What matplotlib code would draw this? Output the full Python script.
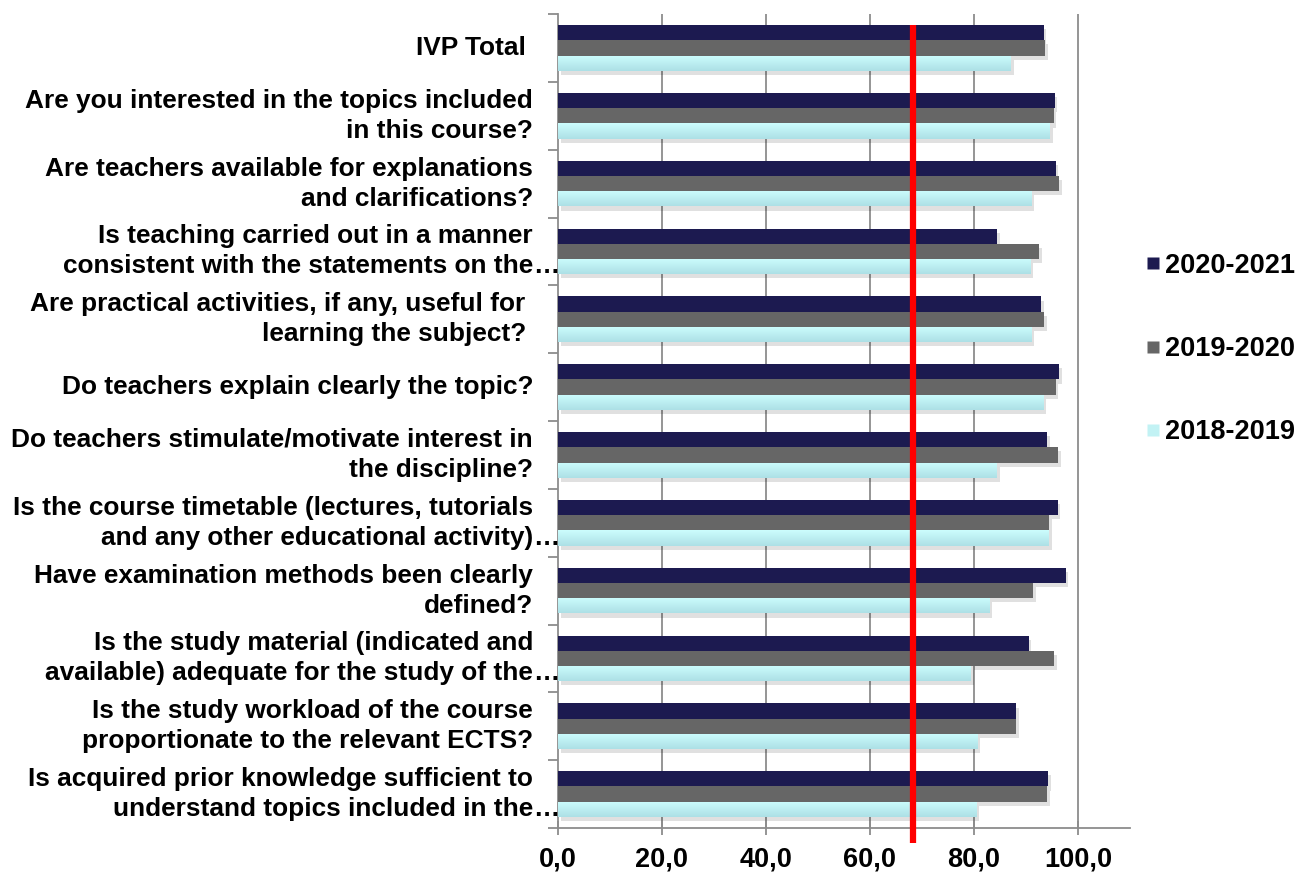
import matplotlib
matplotlib.use("Agg")
import matplotlib.pyplot as plt
import matplotlib.patheffects as pe
from matplotlib.lines import Line2D
import numpy as np

# ---------------- data ----------------
categories = [
    ["IVP Total "],
    ["Are you interested in the topics included", "in this course?"],
    ["Are teachers available for explanations", "and clarifications?"],
    ["Is teaching carried out in a manner", "consistent with the statements on the"],
    ["Are practical activities, if any, useful for ", "learning the subject? "],
    ["Do teachers explain clearly the topic?"],
    ["Do teachers stimulate/motivate interest in", "the discipline?"],
    ["Is the course timetable (lectures, tutorials", "and any other educational activity)"],
    ["Have examination methods been clearly", "defined?"],
    ["Is the study material (indicated and", "available) adequate for the study of the"],
    ["Is the study workload of the course", "proportionate to the relevant ECTS?"],
    ["Is acquired prior knowledge sufficient to", "understand topics included in the"],
]
truncated = [False, False, False, True, False, False, False, True, False, True, False, True]

series_names = ["2020-2021", "2019-2020", "2018-2019"]
v2020_2021 = [93.4, 95.5, 95.7, 84.5, 92.9, 96.3, 94.0, 96.1, 97.6, 90.5, 88.1, 94.2]
v2019_2020 = [93.7, 95.3, 96.4, 92.5, 93.5, 95.7, 96.2, 94.4, 91.4, 95.4, 88.1, 94.0]
v2018_2019 = [87.1, 94.6, 91.1, 90.9, 91.0, 93.4, 84.4, 94.4, 82.9, 79.4, 80.7, 80.4]
threshold = 68.3

xticks = [0, 20, 40, 60, 80, 100]
xtick_labels = ["0,0", "20,0", "40,0", "60,0", "80,0", "100,0"]

colors = ["#1c1a50", "#666666", "#c2f2f4"]
cyan_top, cyan_bottom = "#ccfdfd", "#ade0e6"

# ---------------- figure ----------------
W, H = 1302, 883
fig = plt.figure(figsize=(W / 100, H / 100), dpi=100)
ax = fig.add_axes([558 / W, 1 - 828 / H, (1130 - 558) / W, (828 - 14) / H])

FONT = "Liberation Sans"
n = len(categories)
y = np.arange(n)
bh = 0.225
shadow = [pe.SimplePatchShadow(offset=(2, -3), shadow_rgbFace="#000000", alpha=0.12), pe.Normal()]

grad_cmap = matplotlib.colors.LinearSegmentedColormap.from_list("cy", [cyan_top, cyan_bottom])
grad = np.linspace(0, 1, 32).reshape(-1, 1)

for k, (vals, col, name) in enumerate(zip([v2020_2021, v2019_2020, v2018_2019], colors, series_names)):
    bars = ax.barh(y + (k - 1) * bh, vals, height=bh, color=col, zorder=3, label=name,
                   edgecolor="none")
    for b in bars:
        b.set_path_effects(shadow)
        if k == 2:
            x0, y0 = b.get_x(), b.get_y()
            im = ax.imshow(grad, cmap=grad_cmap, aspect="auto", zorder=3.5,
                           extent=(x0, x0 + b.get_width(), y0 + b.get_height(), y0),
                           interpolation="bilinear")
            im.set_clip_path(b)

ax.set_xlim(0, 110)
ax.set_ylim(n - 0.5, -0.5)
ax.set_aspect("auto")

# grid
for xv in xticks[1:]:
    ax.axvline(xv, color="#8c8c8c", lw=1.3, zorder=1)

# spines
for s in ["top", "right"]:
    ax.spines[s].set_visible(False)
for s in ["left", "bottom"]:
    ax.spines[s].set_color("#8c8c8c")
    ax.spines[s].set_linewidth(1.3)

ax.set_xticks(xticks)
ax.set_xticklabels(xtick_labels, fontfamily=FONT, fontweight="bold", fontsize=19.5)
ax.tick_params(axis="x", direction="inout", length=10, width=1.3, color="#8c8c8c", pad=8)
ax.set_yticks(np.arange(n + 1) - 0.5)
ax.set_yticklabels([])
ax.tick_params(axis="y", direction="out", length=7, width=1.3, color="#8c8c8c")

# threshold line
ax.plot([threshold, threshold], [-0.5 + (0.5 - 1.5 * bh), n - 0.5 + 0.22], color="#ff0000",
        lw=4.5, zorder=5, clip_on=False, solid_capstyle="butt")

# category labels
tr = ax.get_yaxis_transform()
fs = 18.9
for i, lines in enumerate(categories):
    if len(lines) == 1:
        offs = [0]
    else:
        offs = [15, -15]
    for line, off in zip(lines, offs):
        ax.annotate(line, xy=(0, i), xycoords=tr, xytext=(-25, off), textcoords="offset pixels",
                    ha="right", va="center", fontsize=fs, fontweight="bold", fontfamily=FONT,
                    annotation_clip=False)
    if truncated[i]:
        ax.annotate("\u2026", xy=(0, i), xycoords=tr, xytext=(-25, offs[-1]), textcoords="offset pixels",
                    ha="left", va="center", fontsize=fs, fontweight="bold", fontfamily=FONT,
                    annotation_clip=False)

# legend
handles = [Line2D([], [], marker="s", linestyle="none", markersize=8, markerfacecolor=c,
                  markeredgecolor="none") for c in colors]
fig.legend(handles, series_names, loc="center left", bbox_to_anchor=(1147 / W, 1 - 349 / H),
           frameon=False, prop={"family": FONT, "weight": "bold", "size": 19.5},
           handlelength=0.45, handletextpad=0.2, labelspacing=2.12, borderpad=0,
           borderaxespad=0)

fig.savefig("out.png", dpi=100)
